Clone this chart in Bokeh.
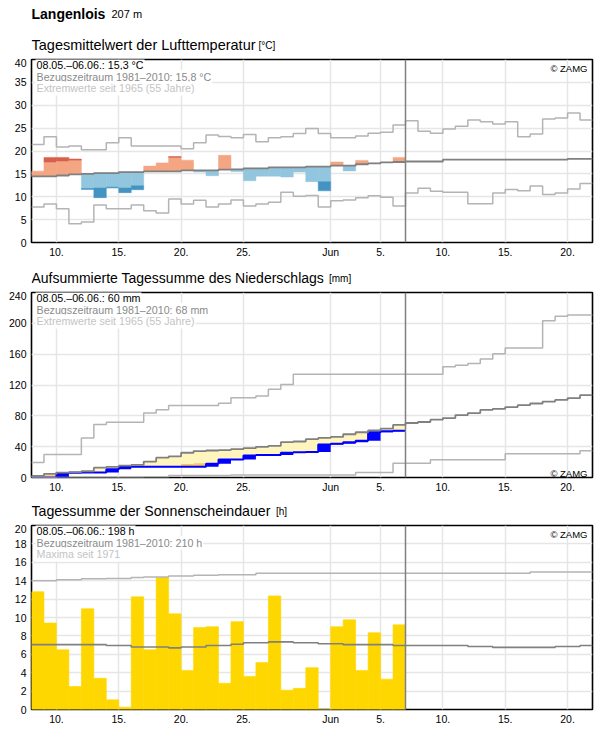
from bokeh.plotting import figure
from bokeh.models import Range1d, FixedTicker, Label, Span
from bokeh.core.properties import value
from bokeh.layouts import column
from bokeh.embed import file_html
from bokeh.resources import INLINE

# ---------------- data ----------------
N_DAYS = 45                     # 08.05. .. 21.06.
OBS_DAYS = 30                   # 08.05. .. 06.06.
x_ticks = [2, 7, 12, 17, 24, 28, 33, 38, 43]
x_tick_labels = ["10.", "15.", "20.", "25.", "Jun", "5.", "10.", "15.", "20."]

station = "Langenlois"
station_alt = "207 m"

# temperature [°C]
temp_obs = [15.6, 18.6, 18.6, 18.25, 11.6, 9.8, 11.9, 10.9, 11.55, 16.7,
            17.4, 18.8, 18.0, 15.4, 14.6, 19.05, 15.5, 13.5, 14.5, 14.5,
            14.3, 15.4, 13.3, 11.3, 17.6, 15.65, 17.95, 17.3, 17.5, 18.6]
temp_dark_edge = [None, 17.6, 17.8, 18.0, 11.8, 11.9, 12.1, 11.9, 12.4, None,
                  None, 18.6, None, None, None, None, None, None, None, None,
                  None, None, None, 13.3, None, None, None, None, None, None]
temp_mean = [14.45, 14.45, 14.65, 14.9, 15.0, 15.15, 15.15, 15.4, 15.4, 15.55,
             15.55, 15.55, 15.75, 15.75, 15.75, 15.95, 16.0, 16.2, 16.2, 16.4,
             16.4, 16.4, 16.6, 16.6, 16.8, 16.8, 17.1, 17.3, 17.5, 17.6,
             17.7, 17.7, 17.7, 18.1, 18.1, 18.1, 18.1, 18.1, 18.1, 18.1,
             18.1, 18.1, 18.1, 18.3, 18.3]
temp_max = [21.4, 23.1, 20.9, 21.1, 20.3, 20.3, 21.8, 22.9, 21.1, 21.1,
            21.1, 21.1, 20.5, 21.8, 23.5, 23.15, 22.9, 23.6, 22.0, 22.9,
            23.1, 23.8, 24.9, 23.8, 22.9, 22.9, 23.3, 23.9, 24.1, 25.7,
            26.6, 24.3, 23.9, 24.8, 25.4, 26.8, 26.4, 25.9, 26.4, 23.1,
            23.7, 27.0, 27.2, 28.3, 26.8]
temp_min = [7.75, 8.4, 7.4, 4.1, 4.5, 8.2, 7.4, 7.4, 8.2, 6.95,
            6.45, 9.5, 8.4, 9.25, 7.75, 8.4, 9.3, 8.0, 8.4, 8.8,
            11.0, 10.1, 10.3, 7.75, 9.1, 9.3, 9.8, 10.2, 9.9, 8.0,
            10.8, 11.85, 11.2, 11.0, 11.0, 8.45, 8.45, 10.8, 11.6, 11.3,
            12.35, 10.5, 10.8, 11.7, 12.9]

# precipitation, accumulated [mm]
prec_obs_cum = [0.0, 0.0, 5.9, 6.1, 6.5, 6.5, 10.7, 14.1, 14.1, 14.1,
                14.1, 14.1, 14.1, 14.1, 18.0, 23.5, 23.5, 28.7, 29.3, 29.3,
                32.1, 32.8, 33.2, 42.8, 43.7, 45.8, 47.6, 58.7, 60.0, 60.7]
prec_dry_edge = [None, 3.0, None, None, None, None, None, None, None, None,
                 None, None, 17.5, 18.4, None, None, None, None, None, None,
                 None, None, None, None, None, None, None, None, None, None]
prec_mean_cum = [2.0, 4.7, 6.4, 6.9, 8.1, 12.8, 13.7, 15.4, 16.3, 20.6,
                 25.7, 27.4, 32.1, 34.3, 35.0, 35.6, 36.8, 38.1, 39.8, 41.1,
                 45.8, 46.7, 49.7, 51.4, 52.7, 56.1, 58.7, 61.2, 63.3, 68.2,
                 70.7, 72.0, 75.0, 77.1, 81.0, 83.6, 87.8, 89.1, 91.3, 93.9,
                 96.0, 98.5, 100.7, 102.9, 106.8]
prec_max_cum = [19.3, 30.0, 30.0, 30.0, 51.4, 68.6, 71.6, 71.6, 71.6, 83.6,
                87.8, 93.4, 93.4, 93.4, 93.4, 96.4, 103.3, 103.3, 105.8, 114.5,
                120.5, 133.8, 133.8, 133.8, 133.8, 133.8, 133.8, 133.8, 133.8, 133.8,
                133.8, 133.8, 133.8, 143.6, 145.7, 147.9, 153.8, 160.7, 168.0, 168.0,
                168.0, 203.2, 209.1, 210.9, 210.9]
prec_min_cum = [0.0, 0.0, 0.0, 0.0, 0.0, 0.0, 0.0, 0.0, 0.0, 0.8,
                0.8, 2.5, 2.5, 2.5, 2.5, 2.5, 3.2, 3.2, 3.2, 3.2,
                3.2, 3.2, 3.2, 3.2, 3.2, 3.2, 6.4, 6.4, 6.4, 18.4,
                18.4, 18.4, 23.1, 23.1, 23.1, 23.1, 23.1, 23.1, 30.8, 30.8,
                30.8, 30.8, 30.8, 30.8, 34.7]

# sunshine duration [h]
sun_obs = [12.8, 9.4, 6.5, 2.5, 10.95, 3.4, 1.05, 0.25, 12.25, 6.5,
           14.35, 10.4, 4.25, 8.9, 9.0, 2.85, 9.55, 3.6, 5.1, 12.35,
           2.1, 2.3, 4.55, 0.0, 9.0, 9.75, 4.25, 8.35, 3.3, 9.2]
sun_mean = [7.05, 7.05, 7.05, 7.05, 7.05, 7.05, 6.95, 6.95, 6.8, 6.8,
            6.8, 6.7, 6.8, 6.8, 6.95, 6.95, 7.1, 7.25, 7.25, 7.35,
            7.35, 7.25, 7.25, 7.15, 7.15, 7.05, 7.05, 7.05, 7.05, 6.95,
            6.95, 6.95, 6.95, 6.95, 6.95, 6.85, 6.85, 6.75, 6.75, 6.75,
            6.75, 6.75, 6.85, 6.85, 6.95]
sun_max = [14.0, 14.0, 14.1, 14.1, 14.2, 14.2, 14.25, 14.25, 14.35, 14.4,
           14.4, 14.5, 14.5, 14.6, 14.6, 14.65, 14.65, 14.65, 14.8, 14.8,
           14.8, 14.8, 14.8, 14.8, 14.8, 14.8, 14.8, 14.8, 14.8, 14.8,
           14.8, 14.8, 14.8, 14.8, 14.8, 14.8, 14.8, 14.8, 14.8, 14.8,
           14.95, 14.95, 14.95, 14.95, 14.95]

panels = [
    dict(title="Tagesmittelwert der Lufttemperatur", unit="[°C]", y_max=40, y_step=5,
         title_size="14.5px", unit_dx=227,
         lines=["08.05.–06.06.: 15,3 °C", "Bezugszeitraum 1981–2010: 15,8 °C",
                "Extremwerte seit 1965 (55 Jahre)"], zamg_top=True),
    dict(title="Aufsummierte Tagessumme des Niederschlags", unit="[mm]", y_max=240, y_step=40,
         title_size="14px", unit_dx=297.5,
         lines=["08.05.–06.06.: 60 mm", "Bezugszeitraum 1981–2010: 68 mm",
                "Extremwerte seit 1965 (55 Jahre)"], zamg_top=False),
    dict(title="Tagessumme der Sonnenscheindauer", unit="[h]", y_max=20, y_step=2,
         title_size="14.2px", unit_dx=244.5,
         lines=["08.05.–06.06.: 198 h", "Bezugszeitraum 1981–2010: 210 h",
                "Maxima seit 1971"], zamg_top=True),
]

# ---------------- styling ----------------
FONT = "Liberation Sans"
FIG_W = 596
LEFT_B = 31
RIGHT_B = 4
FRAME_W = FIG_W - LEFT_B - RIGHT_B
FRAME_H = [185, 187, 186]
HEADER_H = [58, 31, 29]
TOP_B = 1
BOTTOM_B = 16
TITLE_BASE = 13.4        # baseline of panel titles above header bottom
MAIN_BASE = 44.7         # baseline of station name above header bottom
MEAN_COL = "#808080"
EXT_COL = "#b4b4b4"
LINE_COLORS = ["#000000", "#8a8a8a", "#c4c4c4"]


def step_xy(vals):
    xs = list(range(len(vals) + 1))
    return xs, list(vals) + [vals[-1]]


def header(h, items):
    # same left/right borders as the chart panels, so the frames line up
    hp = figure(width=FIG_W, height=h, x_range=Range1d(0, FRAME_W), y_range=Range1d(0, h),
                x_axis_type=None, y_axis_type=None, output_backend="svg",
                toolbar_location=None, min_border_left=LEFT_B, min_border_right=RIGHT_B,
                min_border_top=0, min_border_bottom=0)
    hp.outline_line_color = None
    hp.background_fill_color = "white"
    hp.border_fill_color = "white"
    hp.xgrid.visible = False
    hp.ygrid.visible = False
    for (tx, ty, txt, size, style) in items:
        hp.text(x=[tx], y=[ty], text=[txt], text_font=value(FONT),
                text_font_size=value(size), text_font_style=style,
                text_color="black", text_baseline="alphabetic", text_align="left")
    return hp


def make_panel(cfg, fh):
    y_max = cfg["y_max"]
    p = figure(width=FIG_W, height=TOP_B + fh + BOTTOM_B,
               x_range=Range1d(0, N_DAYS), y_range=Range1d(0, y_max),
               output_backend="svg", toolbar_location=None,
               min_border_left=LEFT_B, min_border_right=RIGHT_B,
               min_border_top=TOP_B, min_border_bottom=BOTTOM_B)
    p.background_fill_color = "white"
    p.border_fill_color = "white"
    p.outline_line_color = "black"
    p.outline_line_width = 1.6
    p.xaxis.ticker = FixedTicker(ticks=x_ticks)
    p.xaxis.major_label_overrides = {t: l for t, l in zip(x_ticks, x_tick_labels)}
    p.yaxis.ticker = FixedTicker(ticks=list(range(0, y_max + 1, cfg["y_step"])))
    for ax in (p.xaxis[0], p.yaxis[0]):
        ax.axis_line_color = None
        ax.major_tick_line_color = None
        ax.minor_tick_line_color = None
        ax.major_tick_out = 0
        ax.major_tick_in = 0
        ax.major_label_text_font = FONT
        ax.major_label_text_font_size = "10.5px"
        ax.major_label_text_color = "black"
        ax.major_label_standoff = 3
    p.yaxis.major_label_standoff = 5
    for g in (p.xgrid[0], p.ygrid[0]):
        g.grid_line_color = "#e6e6e6"
        g.grid_line_width = 1.5
    return p


def slabel(p, sx, sy, text, size, color="black", baseline="alphabetic", align="left", **kw):
    # screen units, measured from the frame's lower-left corner (y upward)
    p.add_layout(Label(x=sx, y=sy, x_units="screen", y_units="screen", text=text,
                       text_font=FONT, text_font_size=size, text_color=color,
                       text_baseline=baseline, text_align=align, **kw))


def add_texts(p, cfg, fh):
    for i, (txt, col) in enumerate(zip(cfg["lines"], LINE_COLORS)):
        slabel(p, 4, fh - 7.5 - 11.7 * i, txt, "10.7px", col, baseline="middle",
               background_fill_color="white", padding=1)
    zy = fh - 10.5 if cfg["zamg_top"] else 4.5
    slabel(p, FRAME_W - 5, zy, "© ZAMG", "9.5px", align="right")
    p.add_layout(Span(location=OBS_DAYS, dimension="height", line_color=MEAN_COL,
                      line_width=1.5))


def panel_header(i, extra=()):
    cfg = panels[i]
    items = [(0, TITLE_BASE, cfg["title"], cfg["title_size"], "normal"),
             (cfg["unit_dx"], TITLE_BASE, cfg["unit"], "10px", "normal")] + list(extra)
    return header(HEADER_H[i], items)


# ---------- panel 1: temperature ----------
h1 = panel_header(0, [(0, MAIN_BASE, station, "14px", "bold"),
                      (80, MAIN_BASE, station_alt, "11px", "normal")])
p1 = make_panel(panels[0], FRAME_H[0])
bars = {"l": [], "r": [], "b": [], "t": [], "c": []}
for k in range(OBS_DAYS):
    o, m, e = temp_obs[k], temp_mean[k], temp_dark_edge[k]
    warm = o >= m
    light_c, dark_c = ("#f4a582", "#d6604d") if warm else ("#92c5de", "#4393c3")
    lim = o if e is None else e
    bars["l"].append(k); bars["r"].append(k + 1)
    bars["b"].append(min(m, lim)); bars["t"].append(max(m, lim)); bars["c"].append(light_c)
    if e is not None:
        bars["l"].append(k); bars["r"].append(k + 1)
        bars["b"].append(min(e, o)); bars["t"].append(max(e, o)); bars["c"].append(dark_c)
p1.quad(left=bars["l"], right=bars["r"], bottom=bars["b"], top=bars["t"],
        fill_color=bars["c"], line_color=bars["c"], line_width=0.5)
for vals, col, w in ((temp_max, EXT_COL, 1.5), (temp_min, EXT_COL, 1.5), (temp_mean, MEAN_COL, 1.8)):
    xs, ys = step_xy(vals)
    p1.step(xs, ys, mode="after", line_color=col, line_width=w)
add_texts(p1, panels[0], FRAME_H[0])

# ---------- panel 2: precipitation ----------
h2 = panel_header(1)
p2 = make_panel(panels[1], FRAME_H[1])
days = list(range(OBS_DAYS))
p2.quad(left=days, right=[d + 1 for d in days],
        bottom=prec_obs_cum, top=prec_mean_cum[:OBS_DAYS],
        fill_color="#fff5bd", line_color="#fff5bd", line_width=0.5)
dry = [(k, prec_obs_cum[k], e) for k, e in enumerate(prec_dry_edge) if e is not None]
p2.quad(left=[d[0] for d in dry], right=[d[0] + 1 for d in dry],
        bottom=[d[1] for d in dry], top=[d[2] for d in dry],
        fill_color="#fdc462", line_color=None)
prev = [0.0] + prec_obs_cum[:-1]
p2.quad(left=days, right=[d + 1 for d in days], bottom=prev, top=prec_obs_cum,
        fill_color="#0000ff", line_color=None)
xs, ys = step_xy(prec_obs_cum)
p2.step(xs, ys, mode="after", line_color="#0000ff", line_width=2)
for vals, col, w in ((prec_max_cum, EXT_COL, 1.5), (prec_min_cum, EXT_COL, 1.5), (prec_mean_cum, MEAN_COL, 1.8)):
    xs, ys = step_xy(vals)
    p2.step(xs, ys, mode="after", line_color=col, line_width=w)
add_texts(p2, panels[1], FRAME_H[1])

# ---------- panel 3: sunshine ----------
h3 = panel_header(2)
p3 = make_panel(panels[2], FRAME_H[2])
p3.quad(left=days, right=[d + 1 for d in days], bottom=0, top=sun_obs,
        fill_color="#ffd700", line_color="#ffd700", line_width=0.6)
for vals, col, w in ((sun_max, EXT_COL, 1.5), (sun_mean, MEAN_COL, 1.6)):
    xs, ys = step_xy(vals)
    p3.step(xs, ys, mode="after", line_color=col, line_width=w)
add_texts(p3, panels[2], FRAME_H[2])

layout = column(h1, p1, h2, p2, h3, p3, spacing=0)
open("out.html", "w").write(file_html(layout, INLINE))
